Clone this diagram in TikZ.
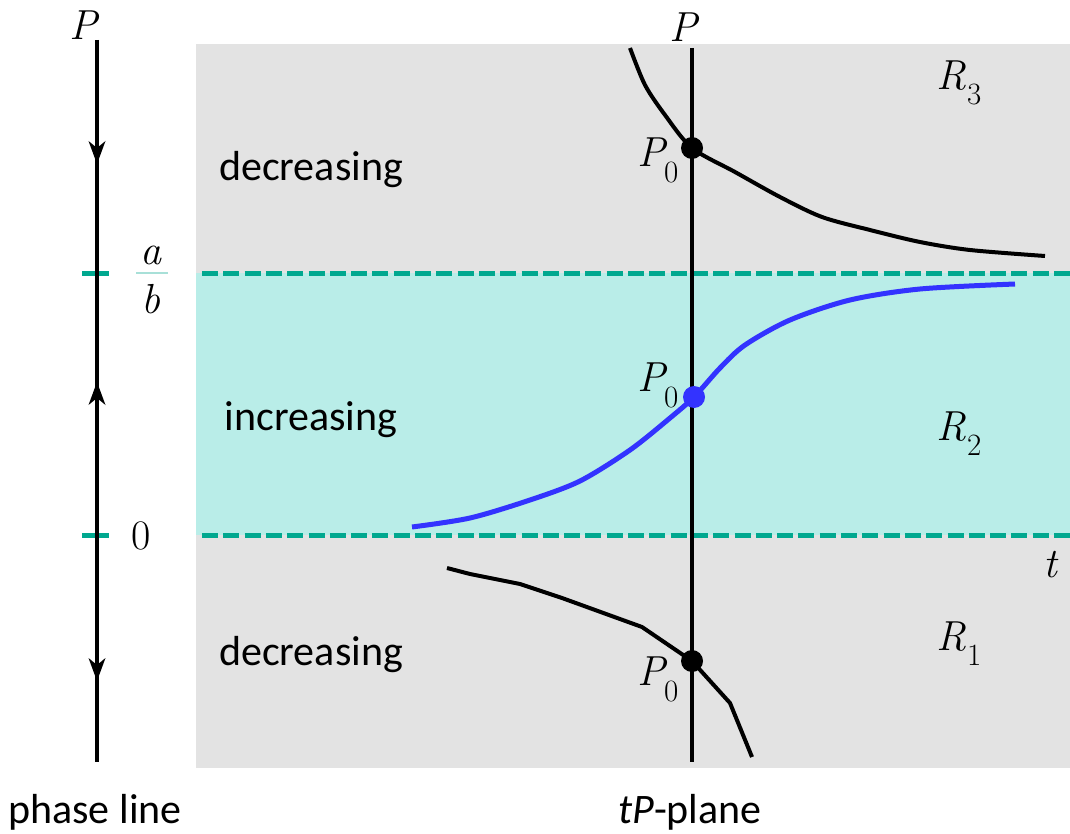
\documentclass[tikz,border=0pt]{standalone}
\usepackage{fontspec}
\newfontfamily\sanslab{Carlito}
\usetikzlibrary{arrows.meta}
\definecolor{bggray}{HTML}{E3E3E3}
\definecolor{bandcyan}{HTML}{B9EDE8}
\definecolor{teal2}{HTML}{00A88F}
\definecolor{barteal}{HTML}{A8E0D8}
\definecolor{curveblue}{HTML}{3333FF}
\begin{document}
\begin{tikzpicture}[x=1pt,y=-1pt,
  axis/.style={line width=4.5pt,black},
  sol/.style={line width=4pt,black,line join=round,line cap=butt},
  blsol/.style={line width=5pt,curveblue,line cap=butt},
  eqline/.style={line width=5pt,teal2,dash pattern=on 16pt off 5.3pt},
  mlab/.style={font=\rmfamily\fontsize{42}{42}\selectfont\itshape,inner sep=0pt},
  numlab/.style={font=\rmfamily\fontsize{42}{42}\selectfont,inner sep=0pt},
  txtlab/.style={font=\sanslab\fontsize{42}{42}\selectfont,inner sep=0pt},
  dot/.style={circle,fill=black,inner sep=0pt,minimum size=22pt},
  sub/.style={}]
\useasboundingbox (0,0) rectangle (1070,834);
% backgrounds
\fill[bggray] (196,44) rectangle (1070,768);
\fill[bandcyan] (196,273) rectangle (1070,535);
% equilibrium dashed lines
\draw[line width=5pt,teal2] (82,273) -- (109,273);
\draw[line width=5pt,teal2] (82,535) -- (109,535);
\draw[eqline] (202,273) -- (1070,273);
\draw[eqline] (202,535) -- (1070,535);
% phase line
\draw[axis] (97,40) -- (97,762);
\fill (97,164) -- (88.5,141) -- (97,148) -- (105.5,141) -- cycle;
\fill (97,382) -- (88.5,405) -- (97,398) -- (105.5,405) -- cycle;
\fill (97,681) -- (88.5,658) -- (97,665) -- (105.5,658) -- cycle;
\node[mlab] (Pphase) at (83,25) {P};
% fraction a/b
\node[mlab,anchor=base] (afrac) at (151,265) {a};
\node[mlab,anchor=base] (bfrac) at (151,313) {b};
\draw[line width=1.5pt,barteal] (136,273) -- (168,273);
\node[numlab] (zero) at (141,536) {0};
% tP axis
\draw[axis] (692,48) -- (692,762);
\node[mlab] (Pplane) at (683,27) {P};
% solution curves
\draw[sol] plot[smooth,tension=0.5] coordinates {(630,48) (645,85) (665,115) (692,148) (735,172) (780,197) (822,217) (870,230) (920,242) (970,250) (1045,256)};
\draw[blsol] plot[smooth,tension=0.5] coordinates {(412,527) (470,518) (530,500) (580,481) (630,450) (670,418) (694,397) (720,368) (745,345) (790,320) (850,300) (920,289) (1015,284)};
\draw[sol] (447,568) -- (470,574) -- (520,584) -- (562,598) -- (642,627) -- (692,661) -- (730,703) -- (752,757);
\node[dot] (d3) at (692,148) {};
\node[dot,fill=curveblue] (d2) at (694,397) {};
\node[dot] (d1) at (692,661) {};
% P0 labels
\node[mlab,anchor=base west] (p03) at (637,167) {P\kern-1pt\raisebox{-16pt}{\upshape\fontsize{31}{31}\selectfont 0}};
\node[mlab,anchor=base west] (p02) at (637,391) {P\kern-1pt\raisebox{-16pt}{\upshape\fontsize{31}{31}\selectfont 0}};
\node[mlab,anchor=base west] (p01) at (637,685) {P\kern-1pt\raisebox{-16pt}{\upshape\fontsize{31}{31}\selectfont 0}};
% region labels
\node[mlab,anchor=base west] (r3) at (936,90) {R\kern1pt\raisebox{-15pt}{\upshape\fontsize{31}{31}\selectfont 3}};
\node[mlab,anchor=base west] (r2) at (936,440) {R\kern1pt\raisebox{-15pt}{\upshape\fontsize{31}{31}\selectfont 2}};
\node[mlab,anchor=base west] (r1) at (936,650) {R\kern1pt\raisebox{-15pt}{\upshape\fontsize{31}{31}\selectfont 1}};
\node[mlab] (tlab) at (1050,565) {t};
% text labels
\node[txtlab] (dec3) at (311,170) {decreasing};
\node[txtlab] (inc) at (311,420) {increasing};
\node[txtlab] (dec1) at (311,655) {decreasing};
\node[txtlab] (phl) at (95,812) {phase line};
\node[txtlab] (tpl) at (690,812) {\itshape tP\upshape-plane};
\end{tikzpicture}
\end{document}
